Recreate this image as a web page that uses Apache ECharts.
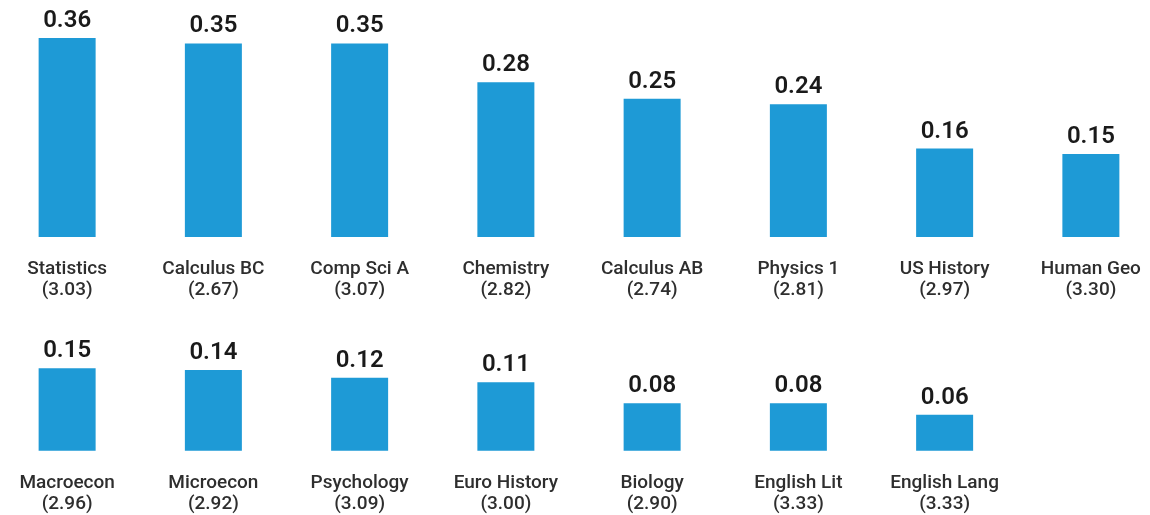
<!DOCTYPE html>
<html>
<head>
<meta charset="utf-8">
<script src="https://cdn.jsdelivr.net/npm/echarts@6/dist/echarts.min.js"></script>
<style>
  html, body { margin: 0; padding: 0; background: #fff; }
  #chart { width: 1150px; height: 515px; }
</style>
</head>
<body>
<div id="chart"></div>
<script>
// top row
const topCourses = ['Statistics', 'Calculus BC', 'Comp Sci A', 'Chemistry', 'Calculus AB', 'Physics 1', 'US History', 'Human Geo'];
const topGpa = ['3.03', '2.67', '3.07', '2.82', '2.74', '2.81', '2.97', '3.30'];
const topValues = [0.36, 0.35, 0.35, 0.28, 0.25, 0.24, 0.16, 0.15];
const topLabels = ['0.36', '0.35', '0.35', '0.28', '0.25', '0.24', '0.16', '0.15'];

// bottom row (last slot empty); bar heights as drawn, printed labels as shown
const bottomCourses = ['Macroecon', 'Microecon', 'Psychology', 'Euro History', 'Biology', 'English Lit', 'English Lang', ''];
const bottomGpa = ['2.96', '2.92', '3.09', '3.00', '2.90', '3.33', '3.33', ''];
const bottomValues = [0.149, 0.146, 0.132, 0.124, 0.086, 0.086, 0.065, null];
const bottomLabels = ['0.15', '0.14', '0.12', '0.11', '0.08', '0.08', '0.06', ''];

const barColor = '#1e9ad6';
const fontFamily = 'Roboto, "Noto Sans", sans-serif';

function catLabel(names, gpas) {
  return function (value, idx) {
    if (!names[idx]) return '';
    return names[idx] + '\n(' + gpas[idx] + ')';
  };
}

function xAxisFor(gridIndex, names, gpas) {
  return {
    type: 'category',
    gridIndex: gridIndex,
    data: names,
    axisLine: { show: false },
    axisTick: { show: false },
    axisLabel: {
      interval: 0,
      margin: 22,
      color: '#2e2e2e',
      fontSize: 19,
      fontWeight: 500,
      lineHeight: 21,
      fontFamily: fontFamily,
      formatter: catLabel(names, gpas)
    }
  };
}

function yAxisFor(gridIndex) {
  return {
    type: 'value',
    gridIndex: gridIndex,
    min: 0,
    max: 0.4,
    show: false,
    splitLine: { show: false }
  };
}

function barSeries(idx, values, labels) {
  return {
    type: 'bar',
    xAxisIndex: idx,
    yAxisIndex: idx,
    data: values,
    barWidth: 57,
    itemStyle: { color: barColor },
    label: {
      show: true,
      position: 'top',
      distance: 5,
      color: '#1a1a1a',
      fontSize: 24,
      fontWeight: 600,
      fontFamily: fontFamily,
      formatter: p => labels[p.dataIndex]
    }
  };
}

const chart = echarts.init(document.getElementById('chart'));
chart.setOption({
  animation: false,
  grid: [
    { left: -6, width: 1170, top: 15.8, height: 221.2, outerBoundsMode: 'none' },
    { left: -6, width: 1170, top: 229.5, height: 221.2, outerBoundsMode: 'none' }
  ],
  xAxis: [xAxisFor(0, topCourses, topGpa), xAxisFor(1, bottomCourses, bottomGpa)],
  yAxis: [yAxisFor(0), yAxisFor(1)],
  series: [barSeries(0, topValues, topLabels), barSeries(1, bottomValues, bottomLabels)]
});
</script>
</body>
</html>
